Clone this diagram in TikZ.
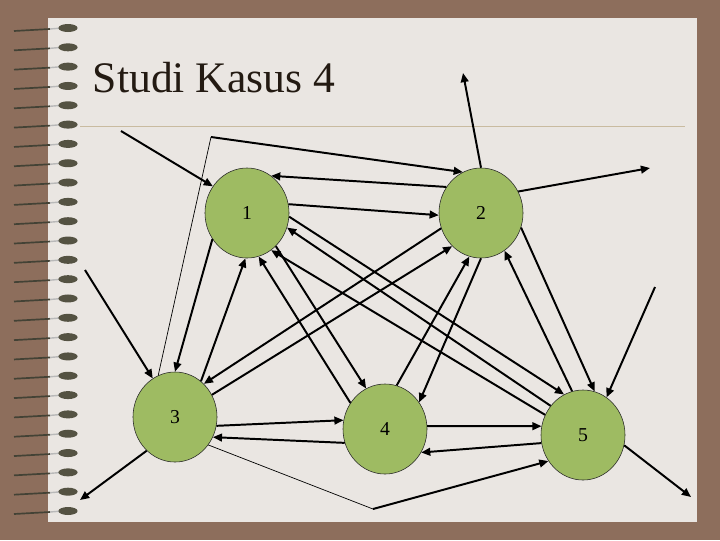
\documentclass[tikz,border=0pt]{standalone}
\usepackage{fontspec}
\setmainfont{Liberation Serif}
\usetikzlibrary{arrows.meta, shapes.geometric}
\definecolor{fondo}{RGB}{141, 110, 92}
\definecolor{hoja}{RGB}{234, 230, 226}
\definecolor{verdenodo}{RGB}{158, 187, 98}
\definecolor{regla}{RGB}{201, 187, 160}
\definecolor{tinta}{RGB}{35, 26, 18}
\definecolor{anillo}{RGB}{84, 82, 66}

\tikzset{
  estado/.style={ellipse, draw=black!85, line width=0.4pt, fill=verdenodo, minimum width=2.1cm, minimum height=2.25cm, inner sep=0pt, font=\fontsize{14}{16}\selectfont},
  flecha/.style={line width=1.4pt, -{Triangle[length=6.5pt, width=5.5pt]}},
  fina/.style={line width=0.5pt}
}

\begin{document}
\begin{tikzpicture}[x=0.025cm, y=-0.025cm]
            % Fondo y hoja
            \useasboundingbox (0,0) rectangle (720,540);
            \fill[fondo] (0,0) rectangle (720,540);
            \fill[hoja] (48,18) rectangle (697,522);
            \foreach \k in {0,...,25} {
              \pgfmathsetmacro{\yy}{28+19.32*\k}
              \draw[anillo!80!black, line width=1.2pt] (14,\yy+3) -- (50,\yy+1);
              \draw[gray!55, line width=1pt] (50,\yy+1) -- (62,\yy);
              \fill[anillo] (68,\yy) ellipse (0.24cm and 0.1cm);
            }

            % Titulo
            \node[anchor=base west, text=tinta, font=\fontsize{31}{36}\selectfont] (judul) at (88,92) {Studi Kasus 4};
            \draw[regla, line width=0.7pt] (80,126) -- (685,126);

            % Nodos
            \node[estado] (n1) at (247,213) {1}; \node[estado] (n2) at (481,213) {2};
            \node[estado] (n3) at (175,417) {3}; \node[estado] (n4) at (385,429) {4}; \node[estado] (n5) at (583,435) {5};

            % Puntos libres
            \coordinate (e1) at (121,131); \coordinate (s2) at (463,73); \coordinate (s2b) at (650,168);
            \coordinate (e3) at (85,270); \coordinate (s3) at (80,500); \coordinate (e5) at (655,287); \coordinate (s5) at (691,497);
            \coordinate (q1) at (211,137); \coordinate (q2) at (373,509);

            % Aristas
            \draw[flecha] (e1) -- (n1.142); \draw[flecha] (n2.90) -- (s2); \draw[flecha] (n2.30) -- (s2b);
            \draw[flecha] (e3) -- (n3.120); \draw[flecha] (n3.230) -- (s3); \draw[flecha] (e5) -- (n5.58); \draw[flecha] (n5.-14) -- (s5);
            \draw[fina] (n3.112) -- (q1); \draw[flecha] (q1) -- (n2.114);
            \draw[fina] (n3.-40) -- (q2); \draw[flecha] (q2) -- (n5.217);
            \draw[flecha] (n1.12) -- (n2.183); \draw[flecha] (n2.143) -- (n1.57);
            \draw[flecha] (n1.217) -- (n3.90); \draw[flecha] (n3.54) -- (n1.268);
            \draw[flecha] (n2.201) -- (n3.49); \draw[flecha] (n3.31) -- (n2.229);
            \draw[flecha] (n3.-12) -- (n4.168); \draw[flecha] (n4.199) -- (n3.-28);
            \draw[flecha] (n4.4) -- (n5.168); \draw[flecha] (n5.191) -- (n4.-33);
            \draw[flecha] (n2.-20) -- (n5.75); \draw[flecha] (n5.104) -- (n2.-58);
            \draw[flecha] (n2.270) -- (n4.38); \draw[flecha] (n4.75) -- (n2.255);
            \draw[flecha] (n1.-49) -- (n4.115); \draw[flecha] (n4.143) -- (n1.-75);
            \draw[flecha] (n1.-5) -- (n5.115); \draw[flecha] (n5.138) -- (n1.-20); \draw[flecha] (n5.152) -- (n1.-57);
        \end{tikzpicture}
\end{document}
